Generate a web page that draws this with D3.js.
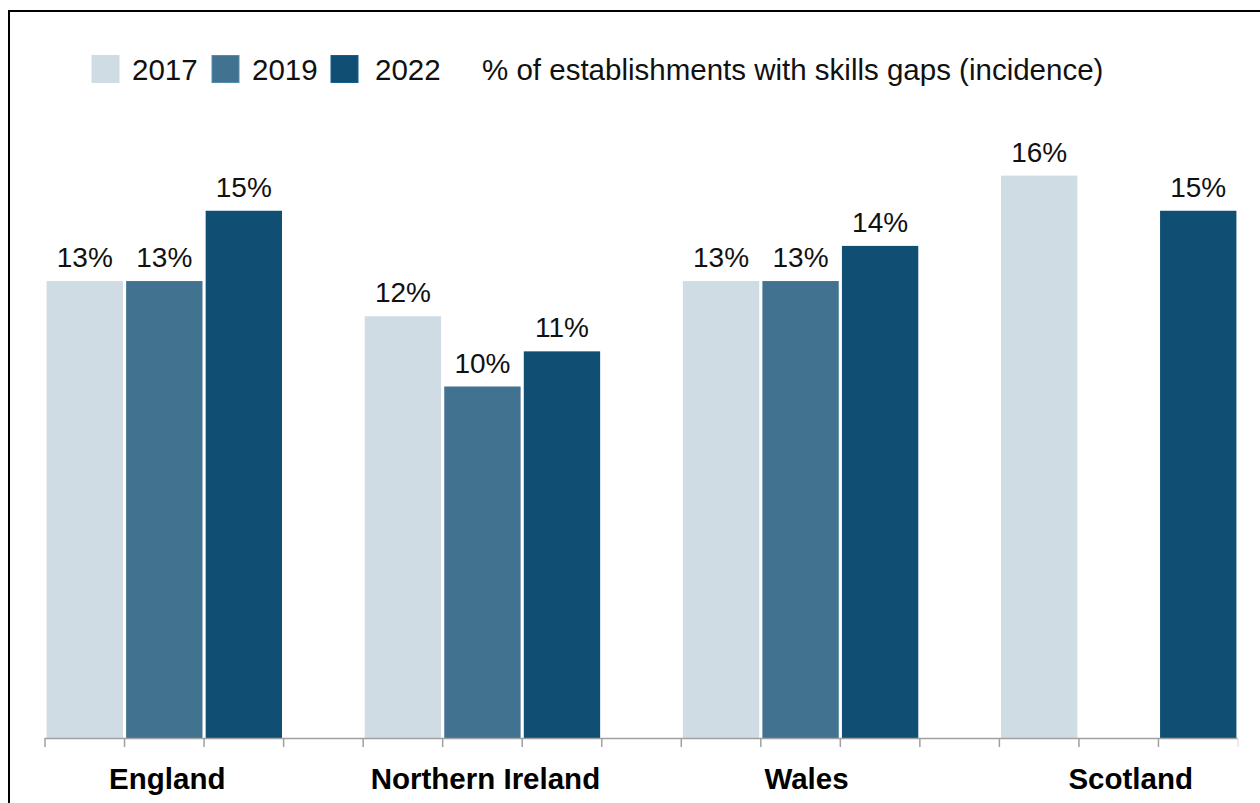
<!DOCTYPE html>
<html><head><meta charset="utf-8">
<script src="https://cdn.jsdelivr.net/npm/d3@7"></script>
<style>body{margin:0;background:#fff}svg{display:block}text{font-family:"Liberation Sans",Arial,sans-serif}</style>
</head><body><svg id="c" width="1260" height="803"></svg>
<script>
const categories = ["England", "Northern Ireland", "Wales", "Scotland"];
const years = ["2017", "2019", "2022"];
const values2017 = [13, 12, 13, 16];
const values2019 = [13, 10, 13, null];
const values2022 = [15, 11, 14, 15];
const colors = ["#d0dce4", "#41728f", "#114e73"];
const legendTitle = "% of establishments with skills gaps (incidence)";

const series = [values2017, values2019, values2022];
const svg = d3.select("#c");

// frame
svg.append("path").attr("d","M9,803 L9,11 L1262,11").attr("fill","none").attr("stroke","#000").attr("stroke-width",2);

// 15 slots: each category gets 3 bar slots, separated by one empty slot
const slots = [];
categories.forEach((c,i)=>{ years.forEach(y=>slots.push(c+"|"+y)); if(i<categories.length-1) slots.push("gap"+i); });
const x = d3.scaleBand().domain(slots).range([45,1238]).paddingInner(0.04).paddingOuter(0.02);
const y = d3.scaleLinear().domain([0,20]).range([738,35]);

const data = [];
categories.forEach((c,ci)=>years.forEach((yr,si)=>{ if(series[si][ci]!=null) data.push({c,yr,si,v:series[si][ci]}); }));

svg.selectAll("rect.bar").data(data).join("rect").attr("class","bar")
  .attr("x",d=>x(d.c+"|"+d.yr)).attr("width",x.bandwidth())
  .attr("y",d=>y(d.v)).attr("height",d=>y(0)-y(d.v)).attr("fill",d=>colors[d.si]);

svg.selectAll("text.lbl").data(data).join("text").attr("class","lbl")
  .attr("x",d=>x(d.c+"|"+d.yr)+x.bandwidth()/2).attr("y",d=>y(d.v)-14)
  .attr("text-anchor","middle").attr("font-size",28).attr("fill","#111").text(d=>d.v+"%");

// axis
const step = (1238-45)/slots.length;
const ax = svg.append("g");
ax.append("line").attr("x1",45).attr("x2",1238).attr("y1",738.5).attr("y2",738.5).attr("stroke","#a0a0a0").attr("stroke-width",1.5);
ax.selectAll("line.tk").data(d3.range(slots.length+1)).join("line").attr("class","tk")
  .attr("x1",i=>45+i*step).attr("x2",i=>45+i*step).attr("y1",738).attr("y2",747)
  .attr("stroke",(i)=>i===slots.length?"#e6e6e6":"#a0a0a0").attr("stroke-width",1.5);

svg.selectAll("text.cat").data(categories).join("text").attr("class","cat")
  .attr("x",(c,i)=>x(c+"|2019")+x.bandwidth()/2 + (i===3?12:i===2?6:3)).attr("y",789)
  .attr("text-anchor","middle").attr("font-size",29.5).attr("font-weight","bold").attr("fill","#000").text(c=>c);

// legend
const lg = svg.append("g");
const lx = [92, 212, 331];
const tx = [132, 252, 375];
years.forEach((yr,i)=>{
  lg.append("rect").attr("x",lx[i]).attr("y",55.5).attr("width",27).attr("height",27)
    .attr("fill",colors[i]).attr("stroke",i===0?colors[i]:d3.color(colors[i]).brighter(0.6)).attr("stroke-width",1);
  lg.append("text").attr("x",tx[i]).attr("y",80).attr("font-size",29.5).attr("fill","#111").text(yr);
});
lg.append("text").attr("x",482).attr("y",80).attr("font-size",29.5).attr("fill","#111").text(legendTitle);
</script></body></html>
